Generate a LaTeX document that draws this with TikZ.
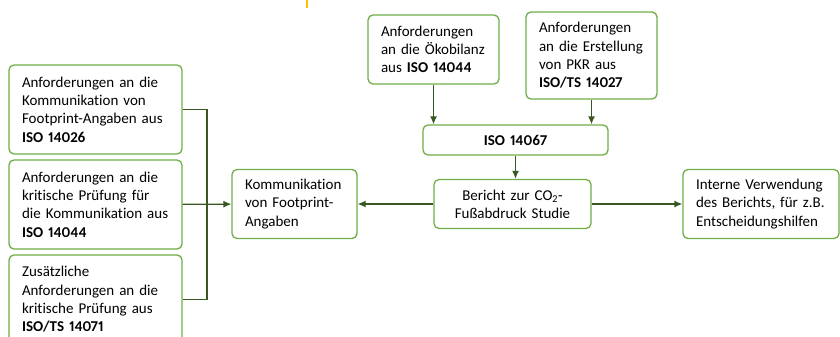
\documentclass[tikz,border=0pt]{standalone}
\usepackage{fontspec}
\setmainfont{Carlito}[Ligatures=NoCommon, Numbers=Proportional]
\usetikzlibrary{arrows.meta}
\definecolor{boxgreen}{RGB}{112,173,71}
\definecolor{arrowgreen}{RGB}{56,87,35}
\definecolor{markorange}{RGB}{255,192,0}
\tikzstyle{textbox} = [rectangle, rounded corners=5pt, 
minimum height=69pt, 
text width=105pt, 
align=left, 
inner xsep=13pt, 
inner ysep=2pt,
font=\fontsize{15}{18.3}\selectfont,
draw=boxgreen, 
line width=1.3pt,
fill=white]
\tikzstyle{centerbox} = [textbox, 
align=center]
\tikzstyle{arrow} = [line width=1.3pt, draw=arrowgreen, -{Latex[length=8pt,width=7pt]}]
\tikzstyle{connector} = [line width=1.3pt, draw=arrowgreen]

\begin{document}
\begin{tikzpicture}[x=1pt, y=-1pt, node distance=95pt]
		\useasboundingbox (0,0) rectangle (840,337);
		\clip (0,0) rectangle (840,337);
		\draw [markorange, line width=2pt] (307,0) -- (307,8);

		\node (anf1) [textbox, text width=147pt, minimum height=89pt] at (95.5,109.5) {Anforderungen an die\\ Kommunikation von\\ Footprint-Angaben aus\\ \textbf{ISO 14026}};
		\node (anf2) [textbox, text width=147pt, minimum height=89pt, below of=anf1] {Anforderungen an die\\ kritische Prüfung für\\ die Kommunikation aus\\ \textbf{ISO 14044}};
		\node (anf3) [textbox, text width=147pt, minimum height=89pt, below of=anf2] {Zusätzliche\\ Anforderungen an die\\ kritische Prüfung aus\\ \textbf{ISO/TS 14071}};
		\node (komm) [textbox, text width=99pt] at (294.5,204) {Kommunikation\\ von Footprint-\\ Angaben};
		\node (oeko) [textbox] at (433.5,49.5) {Anforderungen\\ an die Ökobilanz\\ aus \textbf{ISO 14044}};
		\node (pkr) [textbox, minimum height=87pt] at (591.5,55.5) {Anforderungen\\ an die Erstellung\\ von PKR aus\\ \textbf{ISO/TS 14027}};
		\node (iso) [centerbox, text width=159pt, minimum height=30pt] at (515.5,140) {\textbf{ISO 14067}};
		\node (bericht) [centerbox, text width=131pt, minimum height=49pt] at (512.5,204) {Bericht zur CO\textsubscript{2}-\\ Fußabdruck Studie};
		\node (intern) [textbox, text width=130pt] at (761,204) {Interne Verwendung\\ des Berichts, für z.B.\\ Entscheidungshilfen};

		\draw [arrow] (oeko) -- (oeko |- iso.north);
		\draw [arrow] (pkr) -- (pkr |- iso.north);
		\draw [arrow] (iso.south) -- (iso.south |- bericht.north);
		\draw [arrow] (bericht) -- (komm);
		\draw [arrow] (bericht) -- (intern);

		\coordinate (c1) at (207,204);
		\draw [connector] (anf1) -| (c1);
		\draw [connector] (anf3) -| (c1);
		\draw [arrow] (anf2) -- (komm);
	\end{tikzpicture}
\end{document}
